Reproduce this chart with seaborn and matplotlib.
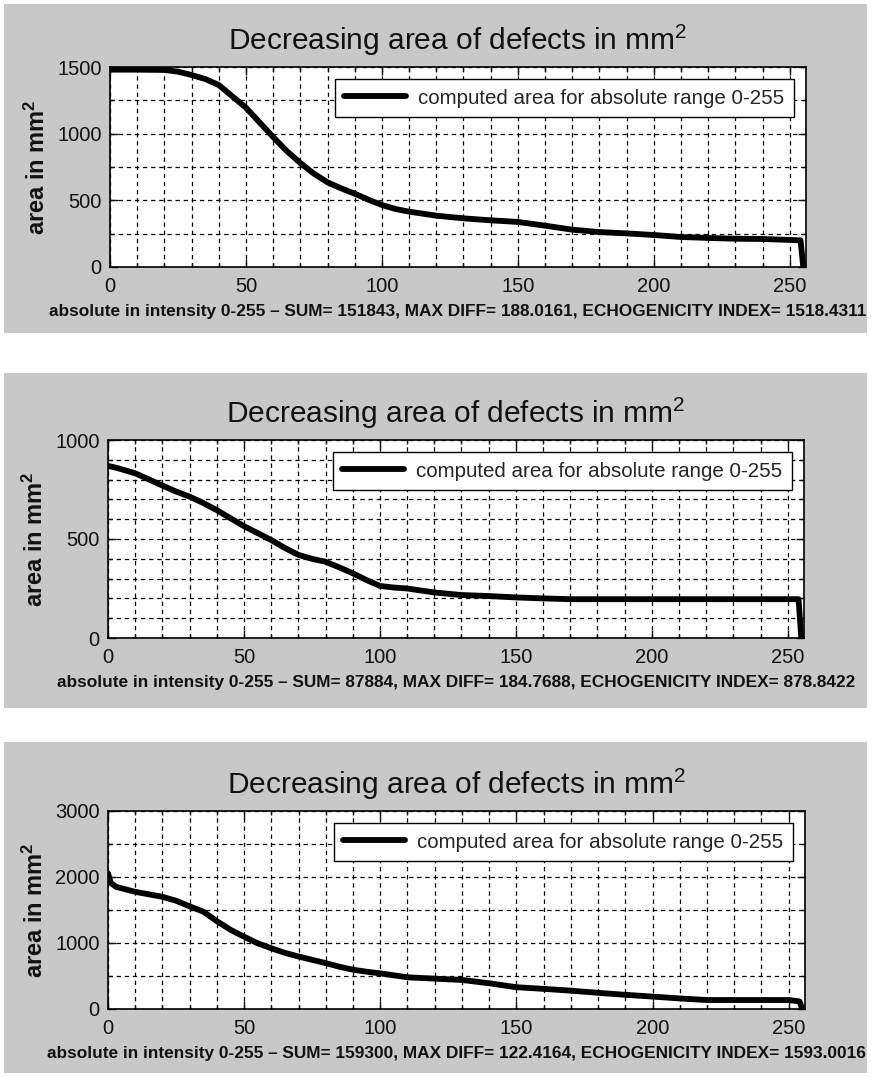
import matplotlib
matplotlib.use("Agg")
import matplotlib.pyplot as plt
from matplotlib.patches import Rectangle
from matplotlib.ticker import MultipleLocator
import seaborn as sns

intensity = [0, 1, 3, 10, 20, 25, 30, 35, 40, 45, 50, 55, 60, 65, 70, 75, 80, 85, 90, 95,
             100, 105, 110, 120, 130, 140, 150, 160, 170, 180, 190, 200, 210, 220, 230, 240,
             250, 254, 255]

# area in mm^2 for each of the three images
area_1 = [1480, 1480, 1480, 1480, 1478, 1465, 1440, 1410, 1365, 1280, 1195, 1085, 975, 870,
          780, 700, 635, 590, 550, 505, 465, 435, 415, 385, 365, 350, 338, 310, 280, 262,
          252, 240, 225, 218, 212, 210, 203, 200, 0]
area_2 = [869, 866, 860, 832, 770, 740, 714, 682, 646, 605, 565, 530, 495, 455, 420, 400,
          385, 357, 327, 293, 263, 255, 250, 230, 217, 212, 205, 200, 196, 196, 196, 196,
          196, 196, 196, 196, 196, 196, 0]
area_3 = [2056, 1910, 1850, 1775, 1700, 1640, 1555, 1475, 1330, 1200, 1095, 995, 920, 850,
          795, 745, 695, 640, 595, 565, 540, 510, 480, 460, 440, 390, 330, 305, 278, 245,
          215, 188, 160, 136, 136, 136, 136, 115, 0]

xlabels = [
    "absolute in intensity 0-255 \u2013 SUM= 151843, MAX DIFF= 188.0161, ECHOGENICITY INDEX= 1518.4311",
    "absolute in intensity 0-255 \u2013 SUM= 87884, MAX DIFF= 184.7688, ECHOGENICITY INDEX= 878.8422",
    "absolute in intensity 0-255 \u2013 SUM= 159300, MAX DIFF= 122.4164, ECHOGENICITY INDEX= 1593.0016",
]
y_max = [1500, 1000, 3000]
y_major = [500, 500, 1000]
y_minor = [250, 100, 500]

sns.set_style("ticks")
plt.rcParams['font.family'] = ['Liberation Sans', 'DejaVu Sans']
plt.rcParams['mathtext.fontset'] = 'custom'
plt.rcParams['mathtext.rm'] = 'Liberation Sans'
plt.rcParams['mathtext.bf'] = 'Liberation Sans:bold'
plt.rcParams['mathtext.default'] = 'regular'

W, H = 871, 1077
fig = plt.figure(figsize=(W / 100, H / 100), dpi=100)
fig.patch.set_facecolor('white')

# gray panel backgrounds (pixels: top, bottom) and axes boxes (left, top, right, bottom)
panels = [(4, 333), (373, 708), (742, 1073)]
boxes = [(110, 67, 806, 267), (108, 440, 804, 638), (108, 811, 805, 1009)]

for i, area in enumerate([area_1, area_2, area_3]):
    top, bot = panels[i]
    fig.add_artist(Rectangle((4 / W, 1 - bot / H), 863 / W, (bot - top) / H,
                             transform=fig.transFigure, facecolor='#c8c8c8',
                             edgecolor='none', zorder=-10))
    l, t, r, b = boxes[i]
    ax = fig.add_axes([l / W, 1 - b / H, (r - l) / W, (b - t) / H])
    ax.set_facecolor('white')

    sns.lineplot(x=intensity, y=area, ax=ax, color='black', linewidth=4.2,
                 label="computed area for absolute range 0-255")

    ax.set_xlim(0, 256)
    ax.set_ylim(0, y_max[i])
    ax.xaxis.set_major_locator(MultipleLocator(50))
    ax.xaxis.set_minor_locator(MultipleLocator(10))
    ax.yaxis.set_major_locator(MultipleLocator(y_major[i]))
    ax.yaxis.set_minor_locator(MultipleLocator(y_minor[i]))
    ax.grid(True, which='both', color='black', linestyle=(0, (3.5, 3)), linewidth=0.9)
    ax.set_axisbelow(True)

    ax.tick_params(which='both', direction='in', top=True, right=True, colors='#111111')
    ax.tick_params(which='major', length=6, width=1, labelsize=14.5, pad=6)
    ax.tick_params(axis='x', which='major', pad=7)
    ax.tick_params(which='minor', length=3, width=1)
    for sp in ax.spines.values():
        sp.set_color('black')
        sp.set_linewidth(1.2)

    ax.set_title("Decreasing area of defects in mm$^{2}$", fontsize=21.5, pad=12, color='#111111')
    ax.set_ylabel(r"area in mm$^{\mathbf{2}}$", fontsize=17, fontweight='bold', labelpad=5,
                  color='#111111')
    ax.set_xlabel(xlabels[i], fontsize=12.4, fontweight='bold', labelpad=6, color='#111111')

    leg = ax.legend(loc='upper right', fontsize=14.8, frameon=True, fancybox=False,
                    framealpha=1, edgecolor='black', handlelength=3.0, handletextpad=0.6,
                    borderpad=0.45, borderaxespad=0.6)
    leg.get_frame().set_linewidth(1.0)

fig.savefig("out.png", dpi=100, facecolor='white')
